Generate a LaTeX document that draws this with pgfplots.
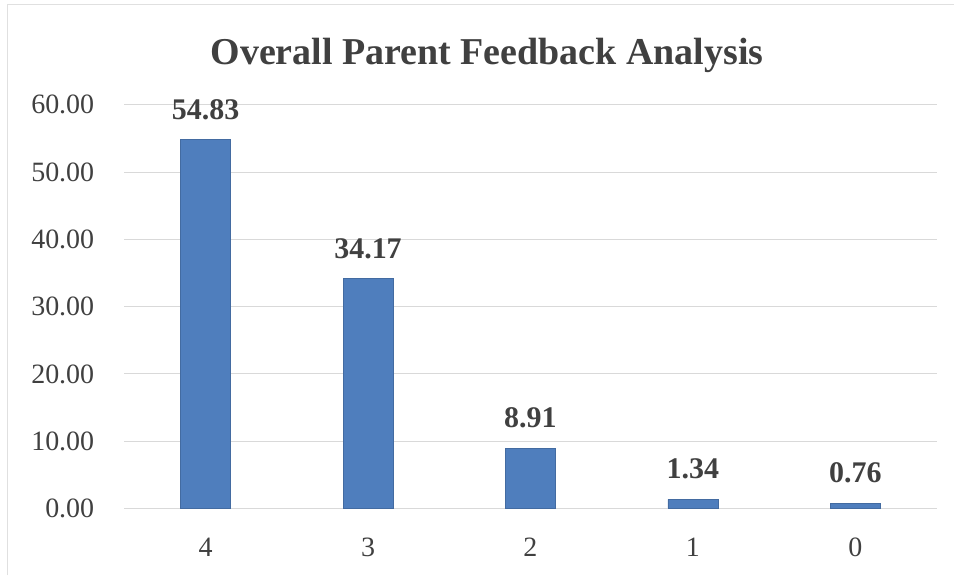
\documentclass[border=0pt]{standalone}
\usepackage{pgfplots}
\pgfplotsset{compat=1.18}
\usepackage{fontspec}
\setmainfont{Liberation Serif}
\definecolor{barblue}{HTML}{4F7EBD}
\definecolor{txt}{HTML}{404040}
\definecolor{gridgray}{HTML}{D9D9D9}
\begin{document}
\begin{tikzpicture}
\begin{axis}[
  name=ax,
  scale only axis,
  width=813bp, height=404bp,
  xmin=-0.5, xmax=4.5,
  ymin=0, ymax=60,
  xtick={0,1,2,3,4},
  xticklabels={4,3,2,1,0},
  ytick={0,10,20,30,40,50,60},
  axis line style={draw=none},
  major tick length=0pt,
  xmajorgrids=false,
  ymajorgrids=true,
  major grid style={draw=gridgray, line width=1bp},
  /pgf/number format/.cd, fixed, fixed zerofill, precision=2, assume math mode=true,
  /pgfplots/.cd,
  yticklabel style={font=\fontsize{28bp}{34bp}\selectfont, text=txt, inner sep=0pt, xshift=-30bp},
  xticklabel style={font=\fontsize{28bp}{34bp}\selectfont, text=txt, inner sep=0pt, anchor=north, yshift=-29bp},
  nodes near coords,
  every node near coord/.append style={font=\bfseries\fontsize{30bp}{34bp}\selectfont, text=txt, inner sep=0pt, anchor=south, yshift=20bp},
  clip=false,
]
\addplot[ybar, bar width=50bp, fill=barblue, draw=barblue!85!black, line width=0.4bp] coordinates {
  (0,54.83) (1,34.17) (2,8.91) (3,1.34) (4,0.76)
};
\end{axis}
\path (ax.south west) ++(-124bp,-67bp) coordinate (bl) rectangle ++(954bp,576bp);
\draw[black!12, line width=1bp] (bl) ++(7bp,0) -- ++(0,571bp) -- ++(947bp,0);
\node[font=\bfseries\fontsize{38bp}{44bp}\selectfont, text=txt, anchor=base, inner sep=0pt] at ([xshift=363bp, yshift=444bp]ax.south west) {Overall Parent Feedback Analysis};
\end{tikzpicture}
\end{document}
